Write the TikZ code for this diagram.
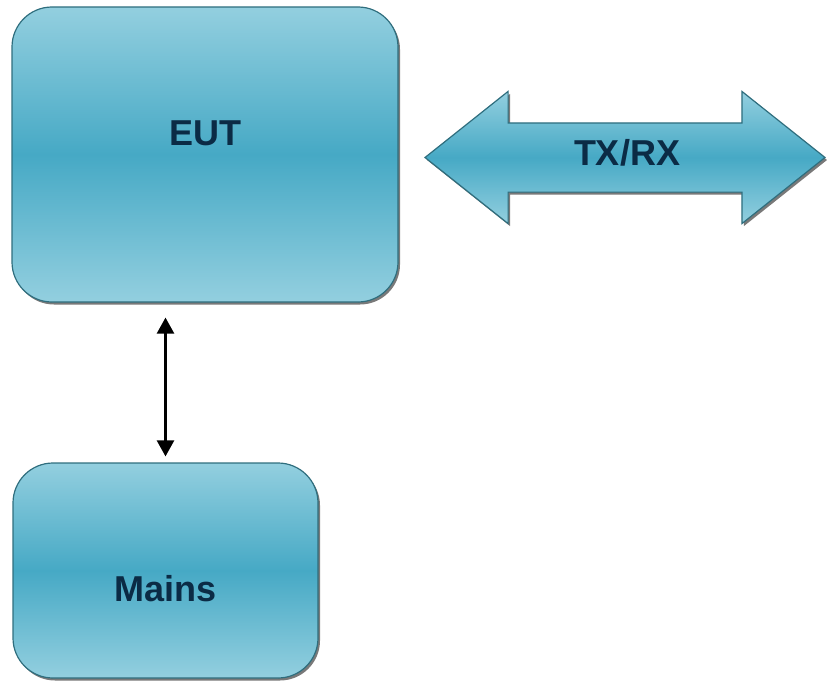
\documentclass[tikz,border=0pt]{standalone}
\usepackage{fontspec}
\setmainfont{Liberation Sans}
\usepackage{tikz}
\usetikzlibrary{shapes,arrows,positioning,calc,shadows,arrows.meta}

\definecolor{boxtop}{HTML}{93CFDF}
\definecolor{boxmid}{HTML}{46A9C5}
\definecolor{boxedge}{HTML}{2F6E7E}
\definecolor{labelink}{HTML}{0B2B45}

\begin{document}
\begin{tikzpicture}[x=1pt, y=-1pt,
    unit/.style={draw=boxedge, line width=1.2pt, rectangle, rounded corners=40pt,
        top color=boxtop, bottom color=boxtop, middle color=boxmid, inner sep=0pt,
        drop shadow={shadow xshift=2pt, shadow yshift=-2.5pt, fill=black!75, opacity=0.7}},
    link/.style={draw=boxedge, line width=1.2pt, double arrow, double arrow tip angle=77,
        double arrow head extend=31.5pt, inner xsep=0pt, inner ysep=34pt,
        top color=boxtop, bottom color=boxtop, middle color=boxmid,
        drop shadow={shadow xshift=2pt, shadow yshift=-2.5pt, fill=black!75, opacity=0.7}},
    tag/.style={font=\bfseries\fontsize{36}{40}\selectfont, text=labelink, inner sep=0pt},
    feed/.style={line width=2.5pt, {Triangle[width=17pt,length=16pt]}-{Triangle[width=17pt,length=16pt]}}
]
    \useasboundingbox (0,0) rectangle (827,685);

    \node [unit, minimum width=386pt, minimum height=295pt,
        label={[tag, yshift=21pt]center:EUT}] (eut) at (205,154.5) {};
    \node [unit, minimum width=305pt, minimum height=215pt,
        label={[tag, yshift=-18pt]center:Mains}] (mains) at (165.5,570.5) {};
    \node [link, minimum height=400pt, minimum width=131pt,
        label={[tag, yshift=5pt, xshift=2pt]center:TX/RX}] (txrx) at (625,157.5) {};

    \draw [feed, shorten <=15pt, shorten >=6pt] (eut.south -| mains.north) -- (mains.north);
\end{tikzpicture}
\end{document}
